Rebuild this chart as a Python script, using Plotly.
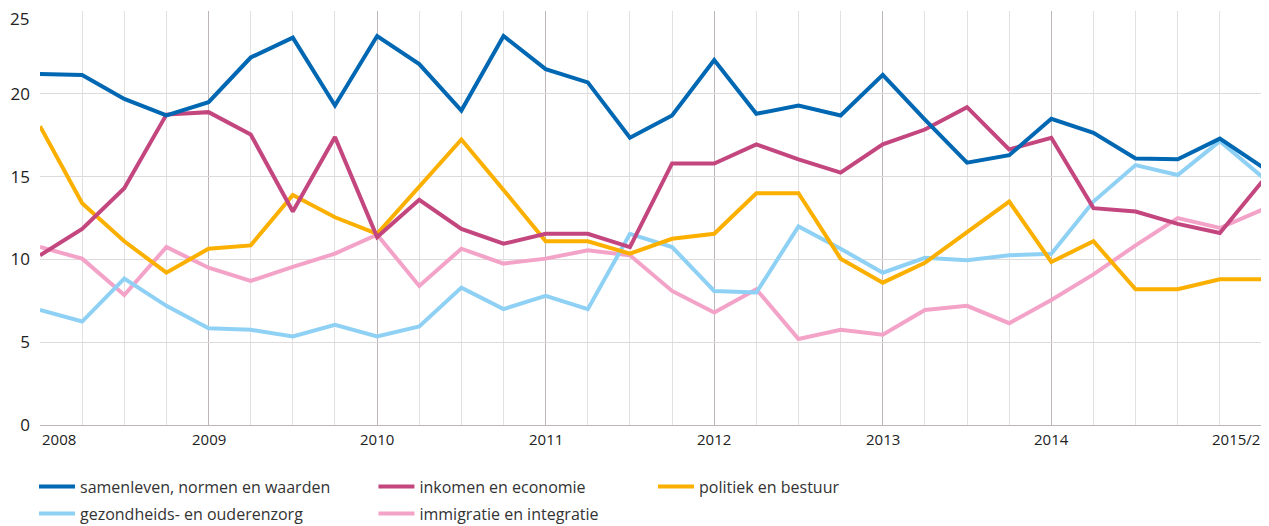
import plotly.graph_objects as go

# kwartalen 2008/1 t/m 2015/2
quarters = list(range(30))
year_labels = ['2008', '2009', '2010', '2011', '2012', '2013', '2014', '2015/2']
year_pos = [0, 4, 8, 12, 16, 20, 24, 29]
y_ticks = [0, 5, 10, 15, 20, 25]

samenleven = [21.2, 21.15, 19.7, 18.7, 19.5, 22.2, 23.4, 19.3, 23.5, 21.8,
              19.0, 23.5, 21.5, 20.7, 17.35, 18.7, 22.05, 18.8, 19.3, 18.7,
              21.15, 18.45, 15.85, 16.3, 18.5, 17.65, 16.1, 16.05, 17.3, 15.6]
inkomen = [10.25, 11.85, 14.3, 18.75, 18.9, 17.55, 12.9, 17.4, 11.35, 13.6,
           11.85, 10.95, 11.55, 11.55, 10.75, 15.8, 15.8, 16.95, 16.05, 15.25,
           16.95, 17.85, 19.2, 16.65, 17.35, 13.1, 12.9, 12.15, 11.6, 14.7]
politiek = [18.05, 13.4, 11.1, 9.2, 10.65, 10.85, 13.9, 12.55, 11.55, 14.4,
            17.25, 14.2, 11.1, 11.1, 10.35, 11.25, 11.55, 14.0, 14.0, 10.05,
            8.6, 9.8, 11.65, 13.5, 9.85, 11.1, 8.2, 8.2, 8.8, 8.8]
gezondheid = [6.95, 6.25, 8.85, 7.2, 5.85, 5.75, 5.35, 6.05, 5.35, 5.95,
              8.3, 7.0, 7.8, 7.0, 11.55, 10.75, 8.1, 8.0, 12.0, 10.65,
              9.2, 10.1, 9.95, 10.25, 10.35, 13.5, 15.7, 15.1, 17.15, 15.0]
immigratie = [10.75, 10.05, 7.85, 10.75, 9.5, 8.7, 9.55, 10.35, 11.5, 8.4,
              10.65, 9.75, 10.05, 10.55, 10.25, 8.1, 6.8, 8.2, 5.2, 5.75,
              5.45, 6.95, 7.2, 6.15, 7.55, 9.1, 10.85, 12.5, 11.9, 13.0]

series = [
    ('immigratie en integratie', immigratie, '#f4a3c8', 'legend5'),
    ('gezondheids- en ouderenzorg', gezondheid, '#8fd1f4', 'legend4'),
    ('politiek en bestuur', politiek, '#fbb000', 'legend3'),
    ('inkomen en economie', inkomen, '#c4467f', 'legend2'),
    ('samenleven, normen en waarden', samenleven, '#0067b3', 'legend'),
]

FONT = 'Open Sans, sans-serif'

fig = go.Figure()
for name, vals, color, leg in series:
    fig.add_trace(go.Scatter(
        x=quarters, y=vals, name=name, mode='lines',
        line=dict(color=color, width=4),
        legend=leg,
    ))

# page body has an 8px margin, so the plot area sits at 38..1262 x 11..427 on screen
def lx(px):
    return (px - 38) / 1224.0

def ly(py):
    return (427 - py) / 416.0

leg_font = dict(family=FONT, size=16, color='#333333')
def leg(px, py):
    return dict(x=lx(px), y=ly(py), xanchor='left', yanchor='middle',
                font=leg_font, bgcolor='rgba(0,0,0,0)', itemwidth=36)

for lab, pos in zip(year_labels, year_pos):
    if pos == 0:
        fig.add_annotation(x=0, y=ly(441), xref='paper', yref='paper', text=lab,
                           showarrow=False, xanchor='left', yanchor='middle',
                           font=dict(family=FONT, size=15, color='#222222'))
    elif pos == 29:
        fig.add_annotation(x=1, y=ly(441), xref='paper', yref='paper', text=lab,
                           showarrow=False, xanchor='right', yanchor='middle',
                           font=dict(family=FONT, size=15, color='#222222'))
    else:
        fig.add_annotation(x=pos, y=ly(441), xref='x', yref='paper', text=lab,
                           showarrow=False, xanchor='center', yanchor='middle',
                           font=dict(family=FONT, size=15, color='#222222'))

# top label sits a little below its gridline
fig.add_annotation(x=lx(29), y=ly(19), xref='paper', yref='paper', text=str(y_ticks[-1]),
                   showarrow=False, xanchor='right', yanchor='middle',
                   font=dict(family=FONT, size=17, color='#222222'))

fig.update_layout(
    width=1269, height=526,
    margin=dict(l=30, r=15, t=3, b=107),
    plot_bgcolor='white', paper_bgcolor='white',
    font=dict(family=FONT, color='#222222'),
    showlegend=True,
    legend=leg(32, 489),
    legend2=leg(372, 489),
    legend3=leg(652, 489),
    legend4=leg(32, 516),
    legend5=leg(372, 516),
    xaxis=dict(
        range=[0, 29], tickvals=year_pos[:-1], showticklabels=False,
        showgrid=True, gridcolor='#bdb5b8', gridwidth=1,
        minor=dict(dtick=1, tick0=0, showgrid=True, gridcolor='#e2e0e1', gridwidth=1),
        zeroline=False, showline=True, linecolor='#bdb5b8', linewidth=1,
        fixedrange=True,
    ),
    yaxis=dict(
        range=[0, 25.01], tickvals=y_ticks,
        ticktext=[str(v) for v in y_ticks[:-1]] + [''],
        showgrid=True, gridcolor='#dcdada', gridwidth=1,
        zeroline=False, showline=False, ticks='', ticklabelstandoff=9,
        tickfont=dict(family=FONT, size=17, color='#222222'),
    ),
)
fig.add_shape(type='line', xref='paper', yref='paper', x0=1, x1=1, y0=0, y1=1,
              line=dict(color='#e2e0e1', width=1))

fig.write_html('out.html')
